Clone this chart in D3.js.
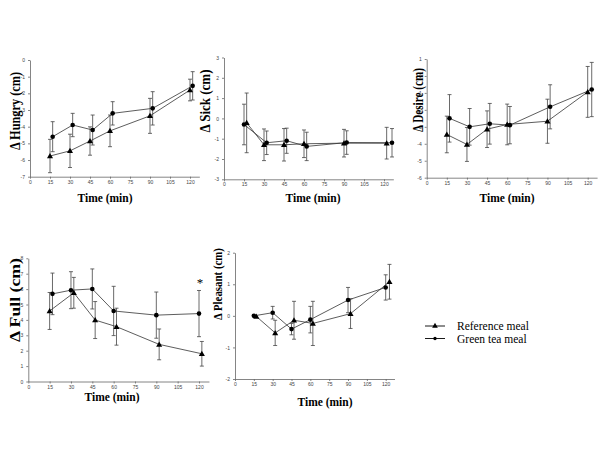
<!DOCTYPE html>
<html>
<head>
<meta charset="utf-8">
<title>Appetite ratings</title>
<style>
  body { margin: 0; background: white; }
  svg text { font-family: "Liberation Serif", "Times New Roman", serif; }
  .tick text { font-family: "Liberation Sans", Arial, sans-serif; font-size: 5px; fill: #444; }
  .domain, .tick line { stroke: #666; stroke-width: 0.8; }
</style>
</head>
<body>
<div id="chart"></div>
<script src="https://cdn.jsdelivr.net/npm/d3@7"></script>
<script>
  // ---- data ----
  const xTicks = [0, 15, 30, 45, 60, 75, 90, 105, 120];

  const hungryTicks = [0, -1, -2, -3, -4, -5, -6, -7];
  const hungryRefT = [15, 30, 45, 60, 90, 120];
  const hungryRef = [-5.76, -5.45, -4.86, -4.25, -3.35, -1.8];
  const hungryRefErr = [1.0, 1.0, 0.85, 0.95, 1.05, 0.65];
  const hungryGreenT = [17, 32, 47, 62, 92, 122];
  const hungryGreen = [-4.6, -3.9, -4.2, -3.2, -2.9, -1.55];
  const hungryGreenErr = [0.9, 0.7, 0.9, 0.7, 1.0, 0.85];

  const sickTicks = [3, 2, 1, 0, -1, -2, -3];
  const sickRefT = [17, 30, 45, 60, 90, 122];
  const sickRef = [-0.22, -1.3, -1.3, -1.25, -1.22, -1.22];
  const sickRefErr = [1.47, 0.78, 0.8, 0.68, 0.68, 0.78];
  const sickGreenT = [15, 32, 47, 62, 92, 126];
  const sickGreen = [-0.3, -1.2, -1.1, -1.38, -1.19, -1.2];
  const sickGreenErr = [1.0, 0.58, 0.62, 0.7, 0.58, 0.7];

  const desireTicks = [1, 0, -1, -2, -3, -4, -5, -6];
  const desireRefT = [15, 30, 45, 60, 90, 120];
  const desireRef = [-3.45, -4.04, -3.14, -2.86, -2.67, -0.94];
  const desireRefErr = [1.08, 1.0, 1.08, 1.2, 1.3, 1.5];
  const desireGreenT = [17, 32, 47, 62, 92, 123];
  const desireGreen = [-2.5, -3.0, -2.82, -2.9, -1.82, -0.8];
  const desireGreenErr = [1.4, 1.08, 1.2, 1.1, 1.3, 1.6];

  const fullTicks = [0, 1, 2, 3, 4, 5, 6, 7, 8];
  const fullRefT = [15, 32, 47, 62, 92, 122];
  const fullRef = [4.58, 5.76, 3.99, 3.56, 2.41, 1.8];
  const fullRefErr = [1.2, 1.0, 1.2, 1.2, 1.0, 0.8];
  const fullGreenT = [17, 30, 45, 60, 90, 120];
  const fullGreen = [5.69, 5.93, 6.01, 4.58, 4.31, 4.41];
  const fullGreenErr = [1.35, 1.2, 1.3, 1.6, 1.5, 1.5];

  const pleasantTicks = [2, 1, 0, -1, -2];
  const pleasantRefT = [17, 32, 47, 62, 92, 123];
  const pleasantRef = [-0.02, -0.54, -0.14, -0.24, 0.07, 1.08];
  const pleasantRefErr = [0, 0.4, 0.6, 0.7, 0.47, 0.55];
  const pleasantGreenT = [15, 30, 45, 60, 90, 120];
  const pleasantGreen = [0.0, 0.1, -0.42, -0.12, 0.5, 0.9];
  const pleasantGreenErr = [0, 0.2, 0.18, 0.42, 0.4, 0.4];

  const legendLabels = ["Reference meal", "Green tea meal"];

  const zip = (t, v, e) => t.map((d, i) => ({t: d, v: v[i], e: e[i]}));

  // layout for each little panel (pixel positions measured on the figure)
  // ylab: [x, centre y, font size, length], tlab: [centre x, y]
  const panels = [
    {name: "Hungry", ticks: hungryTicks, ref: zip(hungryRefT, hungryRef, hungryRefErr),
     green: zip(hungryGreenT, hungryGreen, hungryGreenErr),
     x0: 30, x120: 190, yTop: 60, yBot: 176.7, ylab: [15, 111, 15, 78], tlab: [105, 197]},
    {name: "Sick", ticks: sickTicks, ref: zip(sickRefT, sickRef, sickRefErr),
     green: zip(sickGreenT, sickGreen, sickGreenErr),
     x0: 224, x120: 384, yTop: 57.5, yBot: 179.3, ylab: [205, 101, 14, 63], tlab: [313, 197]},
    {name: "Desire", ticks: desireTicks, ref: zip(desireRefT, desireRef, desireRefErr),
     green: zip(desireGreenT, desireGreen, desireGreenErr),
     x0: 426.7, x120: 587.7, yTop: 59, yBot: 177.7, ylab: [418, 100, 14, 64], tlab: [507, 197]},
    {name: "Full", ticks: fullTicks, ref: zip(fullRefT, fullRef, fullRefErr),
     green: zip(fullGreenT, fullGreen, fullGreenErr),
     x0: 28.3, x120: 199, yTop: 258.3, yBot: 381.5, ylab: [15, 300, 15, 84], tlab: [112, 396]},
    {name: "Pleasant", ticks: pleasantTicks, ref: zip(pleasantRefT, pleasantRef, pleasantRefErr),
     green: zip(pleasantGreenT, pleasantGreen, pleasantGreenErr),
     x0: 235, x120: 385.7, yTop: 252.7, yBot: 379, ylab: [217, 284, 13, 72], tlab: [325, 401]}
  ];

  const svg = d3.select("#chart").append("svg")
    .attr("width", 600).attr("height", 450);

  const tri = d3.symbol(d3.symbolTriangle).size(16);

  panels.forEach(p => {
    const xMax = 127;
    const x = d3.scaleLinear().domain([0, xMax])
      .range([p.x0, p.x0 + (p.x120 - p.x0) * xMax / 120]);
    const y = d3.scaleLinear().domain([d3.min(p.ticks), d3.max(p.ticks)])
      .range([p.yBot, p.yTop]);

    const g = svg.append("g");

    g.append("g").attr("transform", `translate(0,${p.yBot})`)
      .call(d3.axisBottom(x).tickValues(xTicks).tickSize(2).tickSizeOuter(0).tickPadding(1.5));
    g.append("g").attr("transform", `translate(${p.x0},0)`)
      .call(d3.axisLeft(y).tickValues(p.ticks).tickFormat(d => String(d))
        .tickSize(2).tickSizeOuter(0).tickPadding(3));

    // error bars
    [p.ref, p.green].forEach(series => {
      const eb = g.append("g").attr("stroke", "#444").attr("stroke-width", 0.8)
        .selectAll("g").data(series.filter(d => d.e > 0)).enter().append("g");
      eb.append("line")
        .attr("x1", d => x(d.t)).attr("x2", d => x(d.t))
        .attr("y1", d => y(d.v - d.e)).attr("y2", d => y(d.v + d.e));
      eb.append("line")
        .attr("x1", d => x(d.t) - 2).attr("x2", d => x(d.t) + 2)
        .attr("y1", d => y(d.v + d.e)).attr("y2", d => y(d.v + d.e));
      eb.append("line")
        .attr("x1", d => x(d.t) - 2).attr("x2", d => x(d.t) + 2)
        .attr("y1", d => y(d.v - d.e)).attr("y2", d => y(d.v - d.e));
    });

    const line = d3.line().x(d => x(d.t)).y(d => y(d.v));
    [p.ref, p.green].forEach(series => {
      g.append("path").datum(series).attr("d", line)
        .attr("fill", "none").attr("stroke", "#333").attr("stroke-width", 0.8);
    });

    g.selectAll(".tri").data(p.ref).enter().append("path")
      .attr("d", tri).attr("fill", "#000")
      .attr("transform", d => `translate(${x(d.t)},${y(d.v) + 0.5})`);
    g.selectAll(".dot").data(p.green).enter().append("circle")
      .attr("cx", d => x(d.t)).attr("cy", d => y(d.v)).attr("r", 2.3).attr("fill", "#000");

    // titles (start-anchored so textLength does not shift them)
    g.append("text")
      .attr("transform", `translate(${p.ylab[0]},${p.ylab[1] + p.ylab[3] / 2}) rotate(-90)`)
      .attr("dominant-baseline", "central")
      .attr("font-weight", "bold").attr("font-size", p.ylab[2])
      .attr("textLength", p.ylab[3]).attr("lengthAdjust", "spacingAndGlyphs")
      .text(`\u0394 ${p.name} (cm)`);
    g.append("text")
      .attr("x", p.tlab[0] - 27.5).attr("y", p.tlab[1])
      .attr("dominant-baseline", "central")
      .attr("font-weight", "bold").attr("font-size", 13)
      .attr("textLength", 55).attr("lengthAdjust", "spacingAndGlyphs")
      .text("Time (min)");
  });

  // significance mark on the Full panel
  svg.append("text").attr("x", 200).attr("y", 287)
    .attr("text-anchor", "middle").attr("font-size", 13).attr("fill", "#000").text("*");

  // legend
  const leg = svg.append("g");
  legendLabels.forEach((lab, i) => {
    const ly = 326 + i * 12.5;
    leg.append("line").attr("x1", 425).attr("x2", 445).attr("y1", ly).attr("y2", ly)
      .attr("stroke", "#000").attr("stroke-width", 0.9);
    if (i === 0) {
      leg.append("path").attr("d", d3.symbol(d3.symbolTriangle).size(14))
        .attr("transform", `translate(435,${ly})`).attr("fill", "#000");
    } else {
      leg.append("circle").attr("cx", 435).attr("cy", ly).attr("r", 1.7).attr("fill", "#000");
    }
    leg.append("text").attr("x", 457).attr("y", ly)
      .attr("dominant-baseline", "central").attr("font-size", 11.5).text(lab);
  });
</script>
</body>
</html>
